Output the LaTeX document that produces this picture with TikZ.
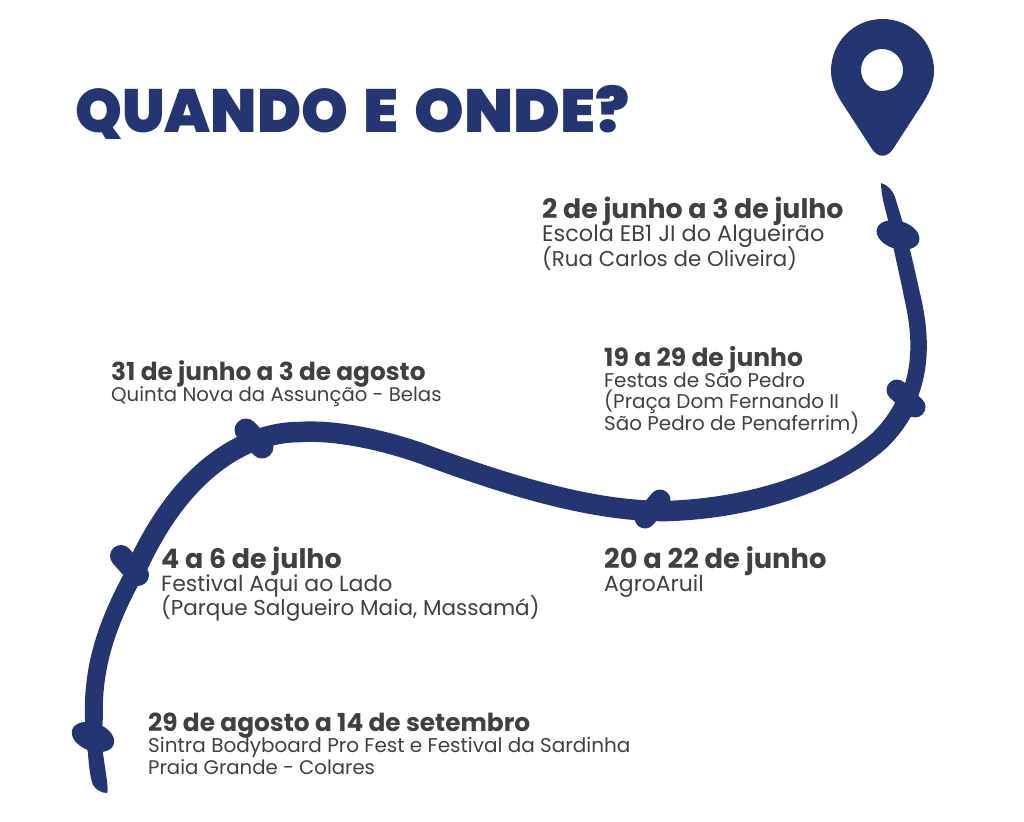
\documentclass[tikz,border=0pt]{standalone}
\usepackage{fontspec}
\setmainfont{Poppins}
\newfontfamily\titlefont[WordSpace=1.5]{Poppins Black}
\newfontfamily\titlenarrow[WordSpace=1.5,FakeStretch=0.975]{Poppins Black}
\newfontfamily\titlewide[WordSpace=1.5,FakeStretch=1.035]{Poppins Black}
\newfontfamily\datefont{Poppins Bold}
\definecolor{navy}{HTML}{233672}
\definecolor{ink}{HTML}{404041}
\tikzset{
 titletxt/.style={anchor=base west,inner sep=0pt,text=navy,font=\titlefont\fontsize{61}{61}\selectfont},
 datetxt/.style={anchor=base west,inner sep=0pt,text=ink,font=\datefont\fontsize{#1}{#1}\selectfont},
 bodytxt/.style={anchor=base west,inner sep=0pt,text=ink,font=\fontsize{#1}{#1}\selectfont},
 knot/.style={draw=navy,line width=#1,line cap=round},
 road/.style={draw=navy,line width=#1,line cap=butt,line join=round}
}
\begin{document}
\begin{tikzpicture}[x=1pt,y=-1pt]
\useasboundingbox (0,0) rectangle (1024,821);
\fill[white] (0,0) rectangle (1024,821);
\node[titletxt] (title) at (75,133) {{\titlenarrow\fontsize{61}{61}\selectfont QUANDO} {\titlewide\fontsize{61}{61}\selectfont E ONDE?}};
% pin
\fill[navy,even odd rule] (882.5,19) .. controls (911,19) and (934,42) .. (934,71)
 .. controls (934,87) and (925,100) .. (917,112) -- (893,149)
 .. controls (887,158) and (878,158) .. (872,149) -- (848,112)
 .. controls (840,100) and (831,87) .. (831,71)
 .. controls (831,42) and (854,19) .. (882.5,19) -- cycle
 (903,70) arc[start angle=0,end angle=360,radius=21];
% road: tapered top end
\fill[navy] (881,183) .. controls (888,185) and (893,191) .. (895,197)
 -- (902,220) -- (910,250) .. controls (914,266) and (917,280) .. (920,293.5)
 -- (904,297.5) .. controls (901,280) and (895,258) .. (888,220)
 .. controls (885,208) and (881,195) .. (881,183) -- cycle;
% road: body
\draw[road=16.5pt] (912,295) .. controls (918,321.25) and (925.1,361.6) .. (907.2,401.2);
\draw[road=20.5pt] (907.2,401.2) .. controls (901.25,414.4) and (892.5,427.5) .. (880,440)
 .. controls (835,480) and (755,508) .. (668,511)
 .. controls (600,512) and (520,490) .. (423,454)
 .. controls (375,437) and (330,430) .. (300,432)
 .. controls (245,432) and (180,470) .. (135,572);
\draw[road=18pt] (135,572) .. controls (106,625) and (92,668) .. (94,720);
% road: tapered bottom end
\fill[navy] (85,715) .. controls (85,735) and (86,745) .. (88,753)
 .. controls (89,770) and (91,780) .. (93,785)
 .. controls (96,790) and (102,793) .. (107,793)
 .. controls (109,790) and (106,775) .. (103,753)
 .. controls (102,740) and (102,730) .. (103,715) -- cycle;
% knots
\fill[navy,rotate around={-17:(898,235)}] (898,235) ellipse[x radius=22,y radius=14];
\fill[navy,rotate around={-20:(93,737)}] (93,737) ellipse[x radius=22,y radius=14];
\draw[knot=23pt] (246,430) -- (262,447);
\draw[knot=22pt] (121,556) -- (138,575);
\draw[knot=21pt] (897,390) -- (915,407);
\draw[knot=21pt] (660,500) -- (645,518);
% texts
\node[datetxt=26.8] (d1) at (542,218) {2 de junho a 3 de julho};
\node[bodytxt=22.4] (b1a) at (542,241) {Escola EB1 JI do Algueirão};
\node[bodytxt=21.4] (b1b) at (542,266) {(Rua Carlos de Oliveira)};
\node[datetxt=25] (d2) at (604,366) {19 a 29 de junho};
\node[bodytxt=19.9] (b2a) at (604,387) {Festas de São Pedro};
\node[bodytxt=19.9] (b2b) at (604,408) {(Praça Dom Fernando II};
\node[bodytxt=19.9] (b2c) at (604,430) {São Pedro de Penaferrim)};
\node[datetxt=24.8] (d3) at (111,380) {31 de junho a 3 de agosto};
\node[bodytxt=19.7] (b3a) at (111,401) {Quinta Nova da Assunção - Belas};
\node[datetxt=26.9] (d4) at (161,568) {4 a 6 de julho};
\node[bodytxt=22] (b4a) at (161,591) {Festival Aqui ao Lado};
\node[bodytxt=21.5] (b4b) at (161,615) {(Parque Salgueiro Maia, Massamá)};
\node[datetxt=27.3] (d5) at (604,568) {20 a 22 de junho};
\node[bodytxt=21.9] (b5a) at (604,591) {AgroAruil};
\node[datetxt=24.85] (d6) at (148,731) {29 de agosto a 14 de setembro};
\node[bodytxt=20] (b6a) at (148,752) {Sintra Bodyboard Pro Fest e Festival da Sardinha};
\node[bodytxt=19.7] (b6b) at (148,774) {Praia Grande - Colares};
\end{tikzpicture}
\end{document}
